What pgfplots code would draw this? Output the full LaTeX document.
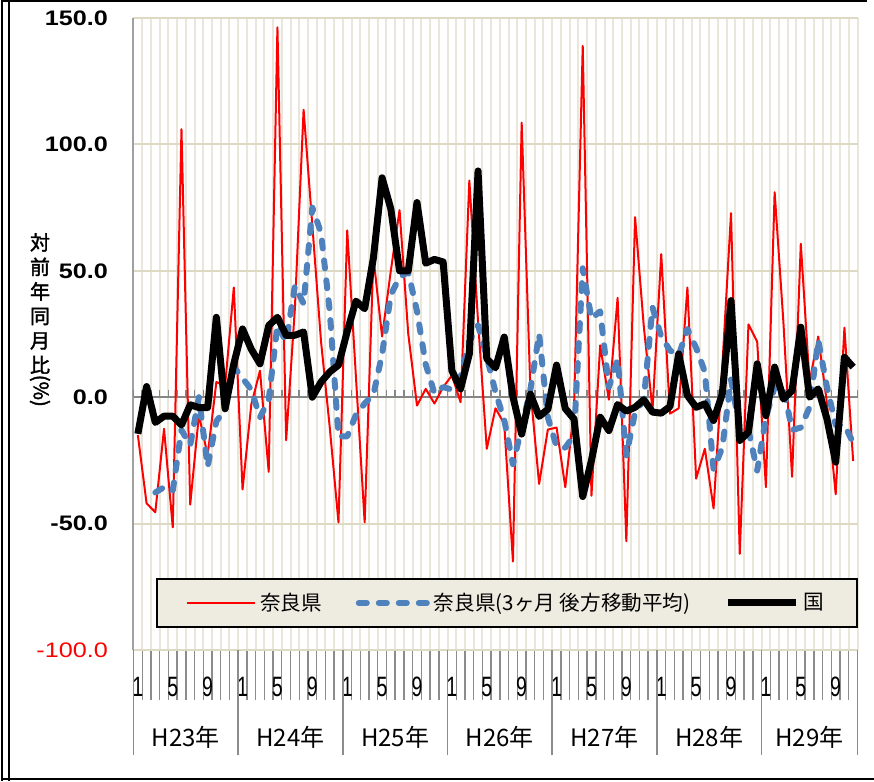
\documentclass[border=0pt]{standalone}
\usepackage{graphicx}
\usepackage{pgfplots}
\pgfplotsset{compat=1.18}
\usepackage{pgfplotstable}
\usepackage{fontspec}
\setmainfont{Liberation Sans}
\newfontfamily\jp{Noto Sans CJK JP}[AutoFakeBold=2]
\definecolor{gridv}{RGB}{234,231,218}
\definecolor{gridh}{RGB}{221,217,195}
\definecolor{axgray}{RGB}{160,160,160}
\definecolor{zgray}{RGB}{134,134,134}
\definecolor{tgray}{RGB}{140,140,140}
\definecolor{blueline}{RGB}{79,129,189}
\definecolor{legfill}{RGB}{238,236,225}
\newcommand{\ml}[1]{\scalebox{0.7}[1]{\fontsize{14}{14}\selectfont #1}}
\newcommand{\yl}[1]{\scalebox{1.2}[1]{\bfseries #1}}

\pgfplotstableread{
x y
0 -15
1 -42
2 -45.5
3 -12.5
4 -51.5
5 106
6 -42.5
7 -7
8 -23
9 6
10 4.5
11 43.4
12 -36.5
13 -3
14 10.5
15 -29.5
16 146.3
17 -17
18 35
19 113.7
20 68
21 22
22 -12
23 -49.5
24 66
25 8
26 -49.5
27 55.5
28 24
29 50
30 74
31 25
32 -3.3
33 3.3
34 -2.5
35 4
36 8.6
37 -2
38 85.7
39 30
40 -20.4
41 -4.4
42 -10.5
43 -65
44 108.6
45 3
46 -34.3
47 -12.8
48 -12
49 -35.6
50 -5
51 139
52 -39
53 20.5
54 -1
55 39.3
56 -57
57 71.2
58 28
59 -5
60 56.6
61 -6.5
62 -4.4
63 43.4
64 -32.2
65 -20.4
66 -44
67 12
68 72.8
69 -62
70 28.8
71 21.9
72 -35.6
73 81.1
74 30
75 -31.5
76 60.7
77 6
78 24
79 -2.4
80 -38.4
81 27.5
82 -25.2
}\nara

\pgfplotstableread{
x y
2 -37.7
3 -35.6
4 -37
5 -13
6 -19
7 0
8 -27.5
9 -9.5
10 -5
11 12
12 7.5
13 3
14 -8
15 -1
16 28.5
17 22
18 44
19 37
20 75
21 65
22 34
23 -15.5
24 -15.5
25 -7
26 -2.5
27 1
28 17
29 40.5
30 47.5
31 49.5
32 34
33 13
34 1.5
35 4
36 3
37 8
38 22
39 28.5
40 16
41 2
42 -9
43 -26.5
44 -12
45 3
46 25
47 -8
48 -19.5
49 -20
50 -15
51 51
52 31
53 34
54 4
55 15
56 -23
57 -6
58 -1
59 35.5
60 24
61 18.5
62 16.5
63 27
64 19.5
65 10
66 -28.5
67 -20
68 7
69 -12.5
70 -13
71 -29
72 -8
73 4
74 4
75 -13
76 -12
77 -4
78 22.5
79 4
80 -11
81 -11
82 -18
}\naraavg

\pgfplotstableread{
x y
0 -14.5
1 4.2
2 -10
3 -7.5
4 -7.5
5 -11
6 -3
7 -4.1
8 -4.1
9 31.6
10 -4.6
11 13.2
12 27
13 19
14 13.2
15 28.3
16 31.6
17 24.5
18 24.5
19 25.8
20 0
21 6
22 10
23 12.7
24 26
25 38
26 35
27 55
28 86.8
29 74.5
30 50
31 50
32 77
33 53
34 54.5
35 53.5
36 10.5
37 3.3
38 17.1
39 89.5
40 15.2
41 11.6
42 23.8
43 0.2
44 -14.6
45 1.2
46 -7.6
47 -4.8
48 12.7
49 -4.5
50 -8.6
51 -39.3
52 -25
53 -7.9
54 -13.2
55 -2.9
56 -5.5
57 -4
58 -1
59 -5.9
60 -6.3
61 -3.7
62 17.1
63 0.7
64 -4
65 -2.6
66 -9.2
67 1.3
68 38.2
69 -17.1
70 -13.8
71 13.2
72 -7.3
73 11.9
74 -0.7
75 2.6
76 27.7
77 0
78 3.3
79 -8.6
80 -25.7
81 15.8
82 11.9
}\kuni

\begin{document}
\begin{tikzpicture}
\path[use as bounding box] (0,0) rectangle (437pt,391pt);
% outer frame
\draw[line width=0.75pt] (1pt,0.5pt) -- (1pt,390.6pt);
\draw[line width=0.75pt] (4.6pt,0.5pt) -- (4.6pt,390.6pt);
\draw[line width=0.75pt] (0.6pt,390.6pt) -- (433.5pt,390.6pt);
\draw[line width=0.75pt] (0.6pt,1.4pt) -- (437pt,1.4pt);

% background grid / ticks / labels
\begin{axis}[
  at={(66.75pt,66pt)}, anchor=south west,
  width=362pt, height=316pt, scale only axis,
  clip=false,
  xmin=-0.5, xmax=82.5, ymin=-100, ymax=150,
  axis x line*=bottom, axis y line*=left,
  x axis line style={draw=gridh, line width=1pt, -},
  y axis line style={draw=axgray, line width=1pt, -},
  xtick={0,4,...,80},
  xticklabels={\ml{1},\ml{5},\ml{9},\ml{1},\ml{5},\ml{9},\ml{1},\ml{5},\ml{9},\ml{1},\ml{5},\ml{9},\ml{1},\ml{5},\ml{9},\ml{1},\ml{5},\ml{9},\ml{1},\ml{5},\ml{9}},
  minor xtick={-0.5,0.5,...,82.5},
  xminorgrids=true, xmajorgrids=false,
  minor grid style={draw=gridv, line width=1pt},
  ytick={-100,-50,...,150},
  yticklabels={\textcolor{red}{\scalebox{1.2}[1]{-100.0}},\yl{-50.0},\yl{0.0},\yl{50.0},\yl{100.0},\yl{150.0}},
  ymajorgrids=true,
  major grid style={draw=gridh, line width=1pt},
  tick align=outside,
  major tick length=0pt,
  minor tick length=25pt,
  xtick style={draw=tgray, line width=0.7pt},
  ytick style={draw=none},
  extra x ticks={-0.5,11.5,23.5,35.5,47.5,59.5,71.5,82.5},
  extra x tick labels={},
  extra x tick style={grid=none, major tick length=52.5pt, tick style={draw=tgray, line width=0.7pt}},
  xticklabel style={anchor=center, yshift=-18.5pt},
  yticklabel style={anchor=east, xshift=-9.25pt, font=\fontsize{10.5}{12}\selectfont},
]
\node[font=\jp\fontsize{12}{12}\selectfont] at (axis cs:5.5,-100) [yshift=-43.5pt] {H23年};
\node[font=\jp\fontsize{12}{12}\selectfont] at (axis cs:17.5,-100) [yshift=-43.5pt] {H24年};
\node[font=\jp\fontsize{12}{12}\selectfont] at (axis cs:29.5,-100) [yshift=-43.5pt] {H25年};
\node[font=\jp\fontsize{12}{12}\selectfont] at (axis cs:41.5,-100) [yshift=-43.5pt] {H26年};
\node[font=\jp\fontsize{12}{12}\selectfont] at (axis cs:53.5,-100) [yshift=-43.5pt] {H27年};
\node[font=\jp\fontsize{12}{12}\selectfont] at (axis cs:65.5,-100) [yshift=-43.5pt] {H28年};
\node[font=\jp\fontsize{12}{12}\selectfont] at (axis cs:77,-100) [yshift=-43.5pt] {H29年};
\end{axis}

% zero line and data
\begin{axis}[
  at={(66.75pt,66pt)}, anchor=south west,
  width=362pt, height=316pt, scale only axis,
  xmin=-0.5, xmax=82.5, ymin=-100, ymax=150,
  axis x line=middle, axis y line=none,
  every inner x axis line/.append style={-},
  x axis line style={draw=zgray, line width=1.25pt, -},
  xtick={-0.5,0.5,...,82.5}, xticklabels={},
  ytick=\empty,
  tick align=inside, major tick length=3.5pt,
  xtick style={draw=zgray, line width=0.75pt},
  legend columns=3,
  legend style={at={(0.5159,0.0744)}, anchor=center, fill=legfill, draw=black, line width=1pt,
    font=\jp\fontsize{10.3}{12}\selectfont,
    /tikz/every even column/.append style={column sep=15pt},
    inner xsep=14.5pt, inner ysep=5pt},
  legend image code/.code={\draw[#1] (0pt,0pt) -- (34pt,0pt);},
]
\addplot[red, line width=1pt, line join=round] table[x=x,y=y]{\nara};
\addplot[blueline, line width=3pt, dash pattern=on 4pt off 6pt, line cap=round, line join=round] table[x=x,y=y]{\naraavg};
\addplot[black, line width=3.5pt, line join=round] table[x=x,y=y]{\kuni};
\legend{奈良県,奈良県(3ヶ月 後方移動平均),国}
\end{axis}

\node[font=\jp\bfseries\fontsize{10}{12.25}\selectfont, align=center, inner sep=0pt] at (20pt,231pt)
  {対\\前\\年\\同\\月\\比\\\rotatebox[origin=c]{-90}{(\%)}};
\end{tikzpicture}
\end{document}
